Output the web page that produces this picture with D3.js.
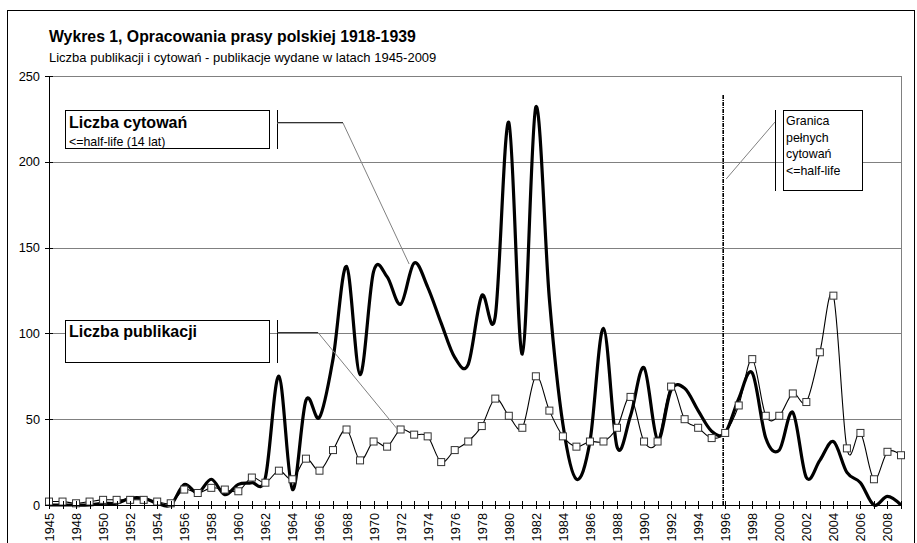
<!DOCTYPE html>
<meta charset="utf-8">
<head>
<style>
body { margin: 0; background: #fff; }
text { font-family: "Liberation Sans", Arial, sans-serif; fill: #000; }
.grid line { stroke: #808080; stroke-width: 1; }
.axis path, .axis line { stroke: #000; shape-rendering: crispEdges; }
.axis text { font-size: 12.8px; }
.callout { stroke: #808080; stroke-width: 1; fill: none; }
</style>
</head>
<body>
<div id="chart"></div>
<script src="https://d3js.org/d3.v7.min.js"></script>
<script>

// lata (1946 brak w danych)
var lata = ["1945","1947","1948","1949","1950","1951","1952","1953","1954","1955",
  "1956","1957","1958","1959","1960","1961","1962","1963","1964","1965",
  "1966","1967","1968","1969","1970","1971","1972","1973","1974","1975",
  "1976","1977","1978","1979","1980","1981","1982","1983","1984","1985",
  "1986","1987","1988","1989","1990","1991","1992","1993","1994","1995",
  "1996","1997","1998","1999","2000","2001","2002","2003","2004","2005",
  "2006","2007","2008","2009"];

// Liczba publikacji (cienka linia z kwadratami)
var publikacje = [2,2,1,2,3,3,3,3,2,1,
  9,7,10,9,8,16,13,20,15,27,
  20,32,44,26,37,34,44,41,40,25,
  32,37,46,62,52,45,75,55,40,34,
  37,37,45,63,37,37,69,50,45,39,
  42,58,85,52,52,65,60,89,122,33,
  42,15,31,29];

// Liczba cytowań <= half-life (gruba linia)
var cytowania = [0,0,0,0,1,1,4,4,1,0,
  12,7,15,6,12,13,16,75,9,61,
  51,85,139,76,136,133,117,141,127,106,
  86,82,122,110,223,88,232,120,47,15,
  37,103,34,52,80,38,67,68,55,43,
  42,62,77,39,32,54,16,26,37,19,
  13,0,5,0];

var yTicks = [0, 50, 100, 150, 200, 250];
var xLabels = ["1945","1948","1950","1952","1954","1956","1958","1960","1962","1964",
  "1966","1968","1970","1972","1974","1976","1978","1980","1982","1984",
  "1986","1988","1990","1992","1994","1996","1998","2000","2002","2004",
  "2006","2008"];

var width = 917, height = 543;

var svg = d3.select("#chart")
  .append("svg")
    .attr("width", width)
    .attr("height", height);

svg.append("rect")
  .attr("x", 7.5).attr("y", 10.5)
  .attr("width", 907).attr("height", 545)
  .style("fill", "#fff")
  .style("stroke", "#000");

var x = d3.scalePoint()
  .domain(lata)
  .range([49, 901]);

var y = d3.scaleLinear()
  .domain([0, 250])
  .range([505, 76]);

// linie siatki
svg.append("g")
  .attr("class", "grid")
  .selectAll("line")
  .data(yTicks.filter(function(d) { return d > 0; }))
  .enter()
  .append("line")
    .attr("x1", x.range()[0])
    .attr("x2", x.range()[1])
    .attr("y1", function(d) { return Math.round(y(d)) + 0.5; })
    .attr("y2", function(d) { return Math.round(y(d)) + 0.5; });

svg.append("line")
  .attr("x1", x.range()[1] + 0.5).attr("x2", x.range()[1] + 0.5)
  .attr("y1", y(250)).attr("y2", y(0))
  .style("stroke", "#808080");

// granica 1996
svg.append("line")
  .attr("x1", x("1996") - 2).attr("x2", x("1996") - 2)
  .attr("y1", 95).attr("y2", y(0))
  .style("stroke", "#000")
  .style("stroke-width", 1.6)
  .style("stroke-dasharray", "4,1,1,1");

var smooth = d3.curveCardinal.tension(0);

var lineCyt = d3.line()
  .x(function(d, i) { return x(lata[i]); })
  .y(function(d) { return y(d); })
  .curve(smooth);

svg.append("path")
  .datum(cytowania)
  .attr("d", lineCyt)
  .style("fill", "none")
  .style("stroke", "#000")
  .style("stroke-width", 3.2)
  .style("stroke-linejoin", "round");

svg.append("path")
  .datum(publikacje)
  .attr("d", lineCyt)
  .style("fill", "none")
  .style("stroke", "#000")
  .style("stroke-width", 1.1);

svg.append("g")
  .selectAll("rect")
  .data(publikacje)
  .enter()
  .append("rect")
    .attr("x", function(d, i) { return x(lata[i]) - 3.5; })
    .attr("y", function(d) { return y(d) - 3.5; })
    .attr("width", 7)
    .attr("height", 7)
    .style("fill", "#fff")
    .style("stroke", "#333")
    .style("stroke-width", 1);

// osie
var xAxis = svg.append("g")
  .attr("class", "axis")
  .attr("transform", "translate(0," + y(0) + ")")
  .call(d3.axisBottom(x)
    .tickSize(4)
    .tickSizeOuter(0)
    .tickFormat(function(d) { return xLabels.indexOf(d) >= 0 ? d : ""; }));
xAxis.selectAll(".tick line").attr("y1", -4).attr("y2", 4);
xAxis.selectAll("text")
  .attr("transform", "rotate(-90)")
  .attr("x", -8)
  .attr("y", 0)
  .attr("dy", ".35em")
  .style("text-anchor", "end");

var yAxis = svg.append("g")
  .attr("class", "axis")
  .attr("transform", "translate(" + x.range()[0] + ",0)")
  .call(d3.axisLeft(y).tickValues(yTicks).tickSize(4).tickSizeOuter(0).tickPadding(5));
yAxis.selectAll(".tick line").attr("x1", 4);

// objasnienia
function callout(bx, by, bw, bh, barX, pts) {
  svg.append("rect")
    .attr("x", bx + 0.5).attr("y", by + 0.5)
    .attr("width", bw).attr("height", bh)
    .style("fill", "#fff")
    .style("stroke", "#000");
  svg.append("line")
    .attr("x1", barX + 0.5).attr("x2", barX + 0.5)
    .attr("y1", by).attr("y2", by + bh + 1)
    .style("stroke", "#000");
  svg.append("path")
    .attr("class", "callout")
    .attr("d", d3.line()(pts));
}

callout(65, 110, 204, 38, 277,
  [[277, 123], [343, 123], [x("1973") - 5, y(141) + 1]]);
svg.append("line").attr("x1", 277).attr("x2", 343).attr("y1", 122.5).attr("y2", 122.5).style("stroke", "#333");
svg.append("text").attr("x", 69).attr("y", 128).style("font-size", "16px").style("font-weight", "bold").text("Liczba cytowań");
svg.append("text").attr("x", 69).attr("y", 146).style("font-size", "12.4px").text("<=half-life (14 lat)");

callout(65, 320, 204, 42, 277,
  [[277, 332.5], [318, 332.5], [x("1972") - 3, y(44)]]);
svg.append("line").attr("x1", 277).attr("x2", 318).attr("y1", 332.5).attr("y2", 332.5).style("stroke", "#333");
svg.append("text").attr("x", 69).attr("y", 337).style("font-size", "16px").style("font-weight", "bold").text("Liczba publikacji");

callout(783, 110, 79, 80, 775,
  [[775, 122], [x("1996") + 1, y(190)]]);
var granica = ["Granica", "pełnych", "cytowań", "<=half-life"];
svg.append("g")
  .selectAll("text")
  .data(granica)
  .enter()
  .append("text")
    .attr("x", 786)
    .attr("y", function(d, i) { return 125 + i * 16.7; })
    .style("font-size", "12.4px")
    .text(function(d) { return d; });

// tytuly
svg.append("text")
  .attr("x", 49).attr("y", 42)
  .style("font-size", "15.8px")
  .style("font-weight", "bold")
  .text("Wykres 1, Opracowania prasy polskiej 1918-1939");

svg.append("text")
  .attr("x", 49).attr("y", 62)
  .style("font-size", "13px")
  .text("Liczba publikacji i cytowań - publikacje wydane w latach 1945-2009");

</script>
</body>
